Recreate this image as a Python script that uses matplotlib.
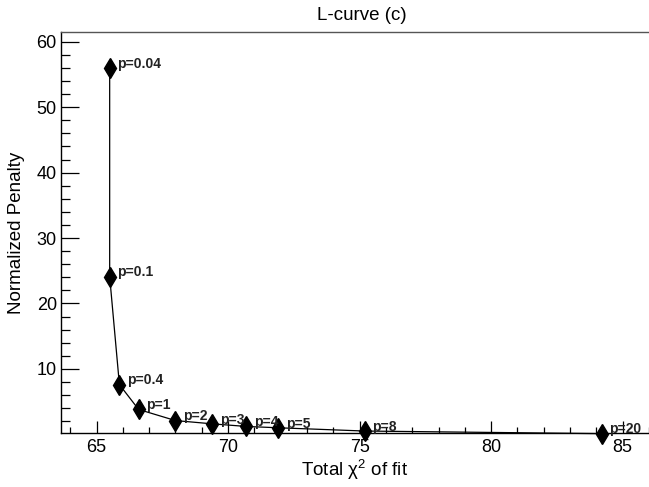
import numpy as np
import matplotlib
matplotlib.use("Agg")
import matplotlib.pyplot as plt
from matplotlib.ticker import MultipleLocator

# ── Dados ───────────────────────────────────────────────────────────────────
chi2     = [65.5, 65.5, 65.87, 66.6, 68.0, 69.4, 70.7, 71.9, 75.2, 84.2]
penalty  = [56.0, 24.1, 7.6, 3.8, 2.1, 1.6, 1.2, 1.0, 0.5, 0.1]
rotulos  = ["p=0.04", "p=0.1", "p=0.4", "p=1", "p=2", "p=3", "p=4", "p=5", "p=8", "p=20"]
# ────────────────────────────────────────────────────────────────────────────

plt.rcParams['font.family'] = ['Liberation Sans', 'DejaVu Sans']
plt.rcParams['mathtext.fontset'] = 'custom'
plt.rcParams['mathtext.rm'] = 'Liberation Sans'
plt.rcParams['mathtext.it'] = 'Liberation Sans:italic'

fig = plt.figure(figsize=(6.49, 4.87), dpi=100)
ax = fig.add_axes([61/649, 54/487, 588/649, 401/487])

ax.plot(chi2, penalty, color='black', lw=0.9, marker='d', markersize=10,
        markerfacecolor='black', markeredgecolor='black', clip_on=False)

for x, y, t in zip(chi2, penalty, rotulos):
    ax.annotate(t, (x, y), xytext=(5.5, 3), textcoords='offset points',
                fontsize=10, fontweight='bold', va='center', ha='left',
                color='#222222', annotation_clip=False)

ax.set_xlim(63.65, 86.0)
ax.set_ylim(0.2, 61.5)

ax.xaxis.set_major_locator(MultipleLocator(5))
ax.xaxis.set_minor_locator(MultipleLocator(1))
ax.yaxis.set_major_locator(MultipleLocator(10))
ax.yaxis.set_minor_locator(MultipleLocator(2))

ax.tick_params(axis='x', which='major', direction='in', length=9, width=0.9,
               labelsize=13, pad=4)
ax.tick_params(axis='x', which='minor', direction='in', length=4, width=0.9)
ax.tick_params(axis='y', which='major', direction='in', length=13, width=0.9,
               labelsize=13, pad=3)
ax.tick_params(axis='y', which='minor', direction='in', length=6.5, width=0.9)

ax.spines['right'].set_visible(False)
for s in ['left', 'bottom', 'top']:
    ax.spines[s].set_linewidth(1.0)
ax.spines['top'].set_color('#555555')

ax.set_xlabel("Total χ$^{2}$ of fit", fontsize=13.5, labelpad=2)
ax.set_ylabel("Normalized Penalty", fontsize=13.5, labelpad=8)

fig.text(362/649, 1 - 16/487, "L-curve (c)", fontsize=13.5, ha='center', va='center')

fig.savefig("out.png", dpi=100)
